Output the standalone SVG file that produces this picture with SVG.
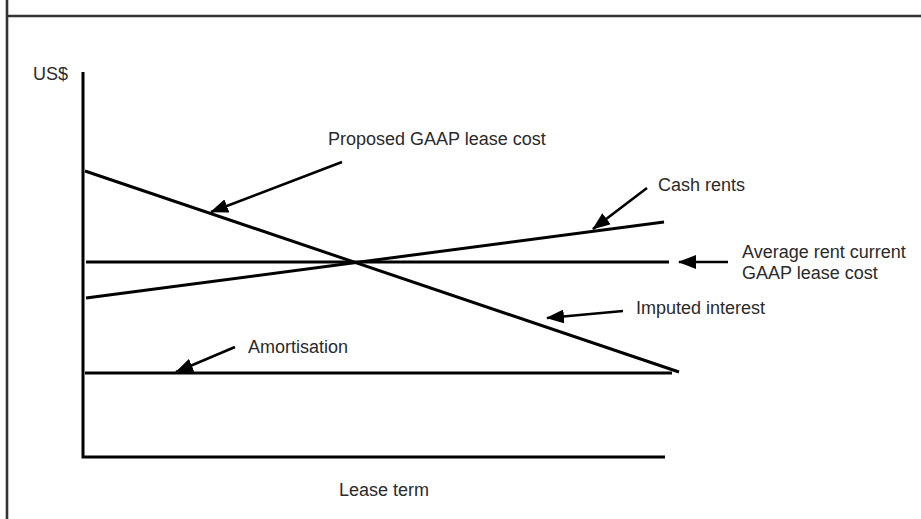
<svg xmlns="http://www.w3.org/2000/svg" width="921" height="519" viewBox="0 0 921 519">
<style>
.frame{stroke:#333;stroke-width:2.6;fill:none}
.ln{stroke:#000;stroke-width:3;fill:none}
.ar{stroke:#000;stroke-width:2.6;fill:none;marker-end:url(#ah)}
text{font-family:"Liberation Sans",Arial,sans-serif;font-size:18px;fill:#2a2a2a}
</style>
<defs>
<marker id="ah" markerUnits="userSpaceOnUse" viewBox="0 0 18 14" refX="17" refY="7" markerWidth="18" markerHeight="14" orient="auto">
<path d="M0,0 L18,7 L0,14 Z" fill="#000"/>
</marker>
</defs>
<rect width="921" height="519" fill="#fff"/>
<g id="frame">
<line class="frame" x1="7" y1="0" x2="7" y2="519"/>
<line class="frame" x1="7" y1="16" x2="921" y2="16"/>
</g>
<g id="axes">
<polyline class="ln" points="83,72 83,457 665,457"/>
<text x="33" y="80">US$</text>
<text x="339" y="496">Lease term</text>
</g>
<g id="series">
<line id="proposed" class="ln" x1="85" y1="171" x2="679" y2="372"/>
<line id="average" class="ln" x1="86" y1="262" x2="669" y2="262"/>
<line id="cash" class="ln" x1="86" y1="298" x2="664" y2="222"/>
<line id="amort" class="ln" x1="85" y1="373" x2="672" y2="373"/>
</g>
<g id="connectors">
<line class="ar" x1="342" y1="162" x2="211" y2="212"/>
<line class="ar" x1="647" y1="188" x2="593" y2="229"/>
<line class="ar" x1="728" y1="262" x2="679" y2="262"/>
<line class="ar" x1="623" y1="311" x2="547" y2="318"/>
<line class="ar" x1="235" y1="347" x2="176" y2="372"/>
</g>
<g id="label-proposed"><text x="328" y="145">Proposed GAAP lease cost</text></g>
<g id="label-cash"><text x="658" y="191">Cash rents</text></g>
<g id="label-average"><text x="742" y="258">Average rent current</text><text x="742" y="279">GAAP lease cost</text></g>
<g id="label-imputed"><text x="636" y="314">Imputed interest</text></g>
<g id="label-amort"><text x="248" y="353">Amortisation</text></g>
</svg>
